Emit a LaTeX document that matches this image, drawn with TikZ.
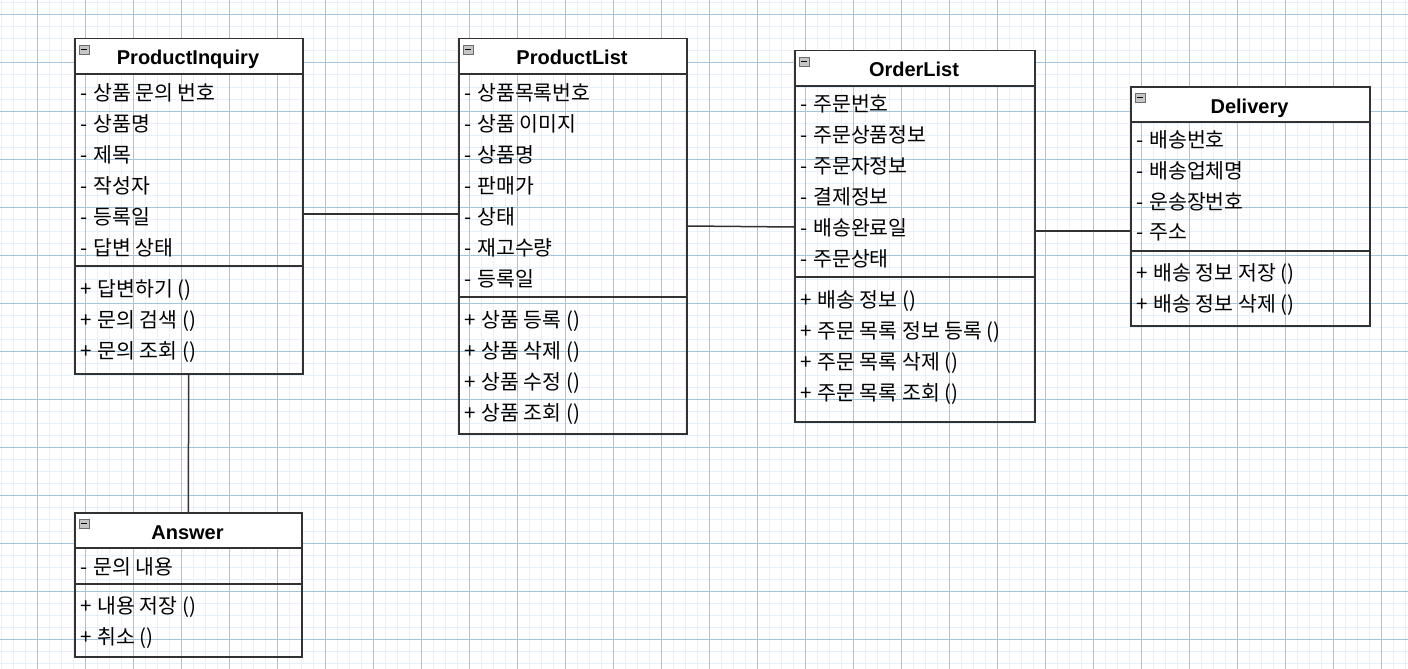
\documentclass[tikz,border=0pt]{standalone}
\usepackage{fontspec}
\setmainfont{Liberation Sans}
\newfontfamily\kofont{Noto Sans CJK KR}
\usepackage{xcolor}

\definecolor{gridmajor}{RGB}{165,196,222}
\definecolor{gridminor}{RGB}{232,240,249}
\definecolor{boxline}{RGB}{50,50,50}

\tikzset{
  classframe/.style={draw=boxline,line width=1.5pt,anchor=north west,inner sep=0pt},
  headfill/.style={fill=white},
  sepline/.style={draw=boxline,line width=1.5pt},
  classtitle/.style={anchor=base,font=\fontsize{20}{24}\selectfont\bfseries},
  member/.style={anchor=west,inner sep=0pt,font=\fontsize{20.5}{24}\selectfont\kofont}
}
\tikzset{link/.style={draw=boxline,line width=1.5pt}}
\newcommand{\priv}{-\hspace{6pt}}
\newcommand{\publ}{+\hspace{6pt}}

\begin{document}
\begin{tikzpicture}[x=1pt,y=-1pt]
    \useasboundingbox (0,0) rectangle (1408,669);
    \fill[white] (0,0) rectangle (1408,669);

    % background grid
    \foreach \gx in {1,13,...,1408} \draw[gridminor,line width=1pt] (\gx,0) -- (\gx,669);
    \foreach \gy in {3,15,...,669} \draw[gridminor,line width=1pt] (0,\gy) -- (1408,\gy);
    \foreach \gx in {37,85,...,1408} \draw[gridmajor,line width=1pt] (\gx,0) -- (\gx,669);
    \foreach \gy in {15,63,...,669} \draw[gridmajor,line width=1pt] (0,\gy) -- (1408,\gy);

    % header backgrounds
    \fill[headfill] (74,38) rectangle (302,74);
    \fill[headfill] (458,38) rectangle (686,74);
    \fill[headfill] (794,50) rectangle (1034,86);
    \fill[headfill] (1130,86) rectangle (1369,122);
    \fill[headfill] (74,512) rectangle (301,548);

    % ProductInquiry
    \node[classframe,minimum width=228pt,minimum height=335pt] (pinq) at (74,38) {};
    \draw[sepline] (74,74) -- (302,74);
    \draw[sepline] (74,266) -- (302,266);
    \node[classtitle] (pinq-t) at (188,65) {ProductInquiry};
    \foreach \i/\t in {0/상품 문의 번호,1/상품명,2/제목,3/작성자,4/등록일,5/답변 상태}
      \node[member] (pinq-a\i) at (80,92.5+\i*31) {\priv\t};
    \foreach \i/\t in {0/답변하기,1/문의 검색,2/문의 조회}
      \node[member] (pinq-m\i) at (80,290.5+\i*31) {\publ\t\ ()};

    % ProductList
    \node[classframe,minimum width=228pt,minimum height=395pt] (plist) at (458,38) {};
    \draw[sepline] (458,74) -- (686,74);
    \draw[sepline] (458,297) -- (686,297);
    \node[classtitle] (plist-t) at (572,65) {ProductList};
    \foreach \i/\t in {0/상품목록번호,1/상품 이미지,2/상품명,3/판매가,4/상태,5/재고수량,6/등록일}
      \node[member] (plist-a\i) at (464,92.5+\i*31) {\priv\t};
    \foreach \i/\t in {0/상품 등록,1/상품 삭제,2/상품 수정,3/상품 조회}
      \node[member] (plist-m\i) at (464,321.5+\i*31) {\publ\t\ ()};

    % OrderList
    \node[classframe,minimum width=240pt,minimum height=371pt] (olist) at (794,50) {};
    \draw[sepline] (794,86) -- (1034,86);
    \draw[sepline] (794,277) -- (1034,277);
    \node[classtitle] (olist-t) at (914,77) {OrderList};
    \foreach \i/\t in {0/주문번호,1/주문상품정보,2/주문자정보,3/결제정보,4/배송완료일,5/주문상태}
      \node[member] (olist-a\i) at (800,103.5+\i*31) {\priv\t};
    \foreach \i/\t in {0/배송 정보,1/주문 목록 정보 등록,2/주문 목록 삭제,3/주문 목록 조회}
      \node[member] (olist-m\i) at (800,301.5+\i*31) {\publ\t\ ()};

    % Delivery
    \node[classframe,minimum width=239pt,minimum height=239pt] (deliv) at (1130,86) {};
    \draw[sepline] (1130,122) -- (1369,122);
    \draw[sepline] (1130,251) -- (1369,251);
    \node[classtitle] (deliv-t) at (1249.5,113) {Delivery};
    \foreach \i/\t in {0/배송번호,1/배송업체명,2/운송장번호,3/주소}
      \node[member] (deliv-a\i) at (1136,139.5+\i*31) {\priv\t};
    \foreach \i/\t in {0/배송 정보 저장,1/배송 정보 삭제}
      \node[member] (deliv-m\i) at (1136,274.5+\i*31) {\publ\t\ ()};

    % Answer
    \node[classframe,minimum width=227pt,minimum height=144pt] (answ) at (74,512) {};
    \draw[sepline] (74,548) -- (301,548);
    \draw[sepline] (74,584) -- (301,584);
    \node[classtitle] (answ-t) at (187.5,539) {Answer};
    \node[member] (answ-a0) at (80,566.5) {\priv 문의 내용};
    \foreach \i/\t in {0/내용 저장,1/취소}
      \node[member] (answ-m\i) at (80,607.5+\i*31) {\publ\t\ ()};

    % collapse icons
    \foreach \bx/\by in {74/38,458/38,794/50,1130/86,74/512} {
      \draw[fill=gray!45,draw=gray!85!black,line width=0.8pt] (\bx+5,\by+7) rectangle (\bx+15,\by+16);
      \draw[black,line width=1.2pt] (\bx+7,\by+11.5) -- (\bx+13,\by+11.5);
    }

    % associations
    \draw[link] (pinq.east |- 0,214) -- (plist.west |- 0,214);
    \draw[link] (plist.east |- 0,226) -- (olist.west |- 0,227);
    \draw[link] (olist.east |- 0,231) -- (deliv.west |- 0,231);
    \draw[link] (pinq.south) -- (answ.north);
\end{tikzpicture}
\end{document}
